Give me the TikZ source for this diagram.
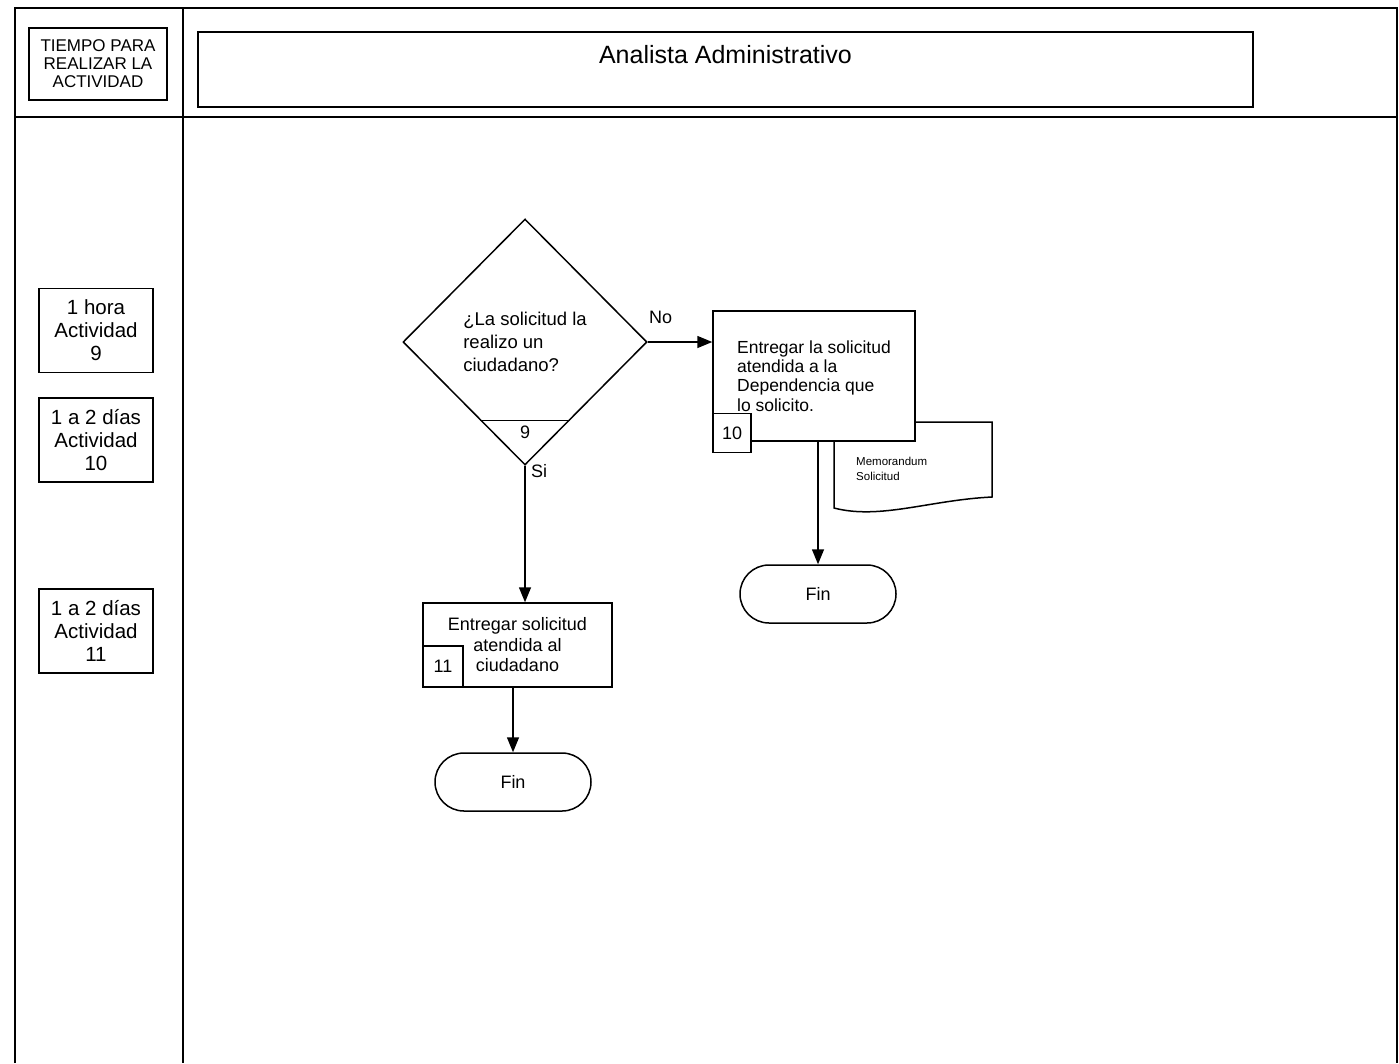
\documentclass[tikz,border=0pt]{standalone}
\usepackage{fontspec}
\setmainfont{Liberation Sans}
\usepackage{tikz}
\usetikzlibrary{shapes.geometric, arrows.meta, positioning, calc}

\begin{document}
\begin{tikzpicture}[x=1pt, y=-1pt]
	% Styles
	\tikzstyle{frame} = [line width=1.7pt]
	\tikzstyle{headbox} = [draw, line width=1.5pt, rectangle, inner sep=0pt, align=center, font=\fontsize{17}{18}\selectfont]
	\tikzstyle{timebox} = [draw, line width=1.5pt, rectangle, minimum width=114pt, minimum height=84pt, inner sep=0pt, align=center, font=\fontsize{20.5}{23}\selectfont]
	\tikzstyle{task} = [draw, line width=1.5pt, rectangle, fill=white, inner sep=0pt, font=\fontsize{18}{20.5}\selectfont]
	\tikzstyle{numbox} = [draw, line width=1.5pt, rectangle, fill=white, inner sep=0pt, font=\fontsize{18}{20}\selectfont]
	\tikzstyle{decision} = [draw, line width=1.5pt, diamond, minimum width=244pt, minimum height=246pt, inner sep=0pt, align=left, font=\fontsize{18.5}{23}\selectfont]
	\tikzstyle{term} = [draw, line width=1.5pt, rectangle, rounded corners=29pt, minimum width=156pt, minimum height=58pt, font=\fontsize{18}{20}\selectfont]
	\tikzstyle{arrow} = [line width=1.5pt, -{Triangle[width=12pt,length=15pt]}]

	\useasboundingbox (0,0) rectangle (1399,1063);

	% Frame
	\draw [frame] (15,1063) -- (15,8) -- (1397,8) -- (1397,1063);
	\draw [frame] (15,117) -- (1397,117);
	\draw [frame] (183,8) -- (183,1063);

	% Header
	\node (tiempo) [headbox, minimum width=138pt, minimum height=72pt] at (98,64) {TIEMPO PARA\\REALIZAR LA\\ACTIVIDAD};
	\node (lane) [headbox, minimum width=1055pt, minimum height=75pt] at (725.5,69.5) {};
	\node (lanename) [font=\fontsize{25}{30}\selectfont, inner sep=0pt] at (725.5,55) {Analista Administrativo};

	% Times
	\node (t9) [timebox] at (96,330.5) {1 hora\\Actividad\\9};
	\node (t10) [timebox] at (96,440) {1 a 2 días\\Actividad\\10};
	\node (t11) [timebox] at (96,631) {1 a 2 días\\Actividad\\11};

	% Nodes
	\node (dec) [decision] at (525,342) {¿La solicitud la\\realizo un\\ciudadano?};
	\draw [line width=1.1pt] ($(dec.south)!0.366!(dec.west)$) -- ($(dec.south)!0.366!(dec.east)$);
	\node (n9) [font=\fontsize{18}{20}\selectfont, inner sep=0pt] at ($(dec.south)+(0,-33)$) {9};

	\draw [line width=1.5pt, fill=white] (834,422) -- (992,422) -- (992,497) .. controls (930,500) and (880,520) .. (834,508) -- cycle;
	\node (memo) [anchor=west, align=left, inner sep=0pt, font=\fontsize{11.5}{14.5}\selectfont] at (856,469) {Memorandum\\Solicitud};

	\node (box10) [task, minimum width=202pt, minimum height=130pt, align=left, font=\fontsize{17.5}{19.2}\selectfont] at (814,376) {Entregar la solicitud\\atendida a la\\Dependencia que\\lo solicito.};
	\node (num10) [numbox, minimum width=38pt, minimum height=39pt, anchor=north west] at ($(box10.south west)+(0,-29)$) {10};

	\node (box11) [task, minimum width=189pt, minimum height=84pt, align=center] at (517.5,645) {Entregar solicitud\\atendida al\\ciudadano};
	\node (num11) [numbox, minimum width=40pt, minimum height=41pt, anchor=south west] at (box11.south west) {11};

	\node (fin1) [term] at (818,594) {Fin};
	\node (fin2) [term] at (513,782) {Fin};

	% Connections
	\draw [arrow] (dec.east) -- node [pos=0.2, above=14pt, font=\fontsize{18}{20}\selectfont] {No} (dec.east -| box10.west);
	\draw [arrow] (dec.south) -- node [pos=0.04, right=2pt, font=\fontsize{18}{20}\selectfont] {Si} (dec.south |- box11.north);
	\draw [arrow] (fin1.north |- box10.south) -- (fin1.north);
	\draw [arrow] (fin2.north |- box11.south) -- (fin2.north);
\end{tikzpicture}
\end{document}
